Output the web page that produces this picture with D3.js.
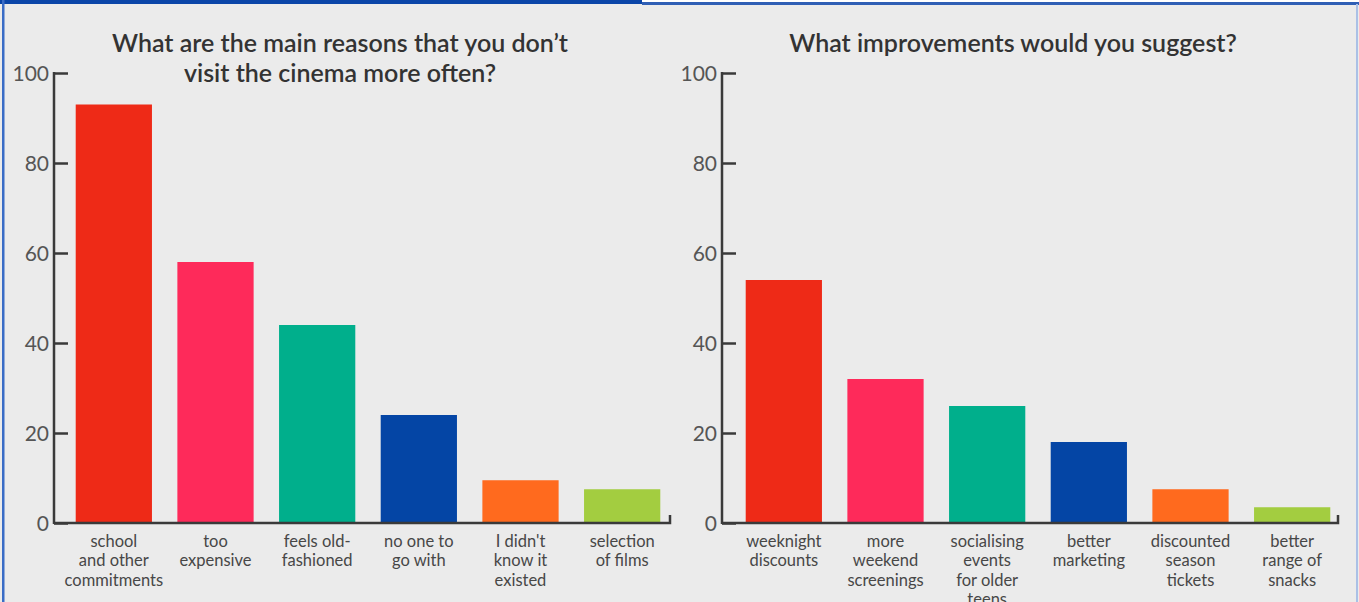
<!DOCTYPE html>
<html><head><meta charset="utf-8">
<script src="https://cdn.jsdelivr.net/npm/d3@7"></script>
<style>
html,body{margin:0;padding:0;background:#fff;}
svg{display:block;font-family:Lato,"Open Sans",sans-serif;}
</style></head>
<body>
<svg id="c" width="1359" height="602"></svg>
<script>
const leftTitle = ["What are the main reasons that you don\u2019t", "visit the cinema more often?"];
const leftCategories = [["school","and other","commitments"],["too","expensive"],["feels old-","fashioned"],["no one to","go with"],["I didn't","know it","existed"],["selection","of films"]];
const leftValues = [93, 58, 44, 24, 9.5, 7.5];

const rightTitle = ["What improvements would you suggest?"];
const rightCategories = [["weeknight","discounts"],["more","weekend","screenings"],["socialising","events","for older","teens"],["better","marketing"],["discounted","season","tickets"],["better","range of","snacks"]];
const rightValues = [54, 32, 26, 18, 7.5, 3.5];

const barColors = ["#ee2a17","#fe2a5a","#00af8c","#0445a5","#ff6a1e","#a3cd40"];
const yTicks = [0, 20, 40, 60, 80, 100];

const svg = d3.select("#c");
svg.append("rect").attr("x",0).attr("y",0).attr("width",1359).attr("height",602).attr("fill","#ebebeb");
// frame
svg.append("rect").attr("x",642).attr("y",0).attr("width",717).attr("height",2).attr("fill","#ffffff");
svg.append("rect").attr("x",642).attr("y",2).attr("width",717).attr("height",3).attr("fill","#2f5fb5");
svg.append("rect").attr("x",0).attr("y",0).attr("width",642).attr("height",4).attr("fill","#0a45a8");
svg.append("rect").attr("x",2).attr("y",0).attr("width",2.5).attr("height",602).attr("fill","#3a6cc6");
svg.append("rect").attr("x",1356).attr("y",4).attr("width",2).attr("height",598).attr("fill","#aac0e6");

const y = d3.scaleLinear().domain([0,100]).range([523,73]);

function panel(cfg){
  const g = svg.append("g");
  const x = d3.scaleBand().domain(cfg.cats.map((d,i)=>i)).range(cfg.range).paddingInner(0.25).paddingOuter(0.125);
  g.selectAll("rect.bar").data(cfg.vals).join("rect").attr("class","bar")
    .attr("x",(d,i)=>x(i)).attr("width",x.bandwidth())
    .attr("y",d=>y(d)).attr("height",d=>y(0)-y(d))
    .attr("fill",(d,i)=>barColors[i]);
  const ax = g.append("g").attr("transform",`translate(${cfg.axisX},0)`)
    .call(d3.axisRight(y).tickValues(yTicks).tickSize(14).tickFormat(""));
  ax.select(".domain").remove();
  ax.selectAll(".tick line").attr("stroke","#3a3a3a").attr("stroke-width",2.5);
  g.append("line").attr("x1",cfg.axisX).attr("x2",cfg.axisX).attr("y1",y(100)-1).attr("y2",y(0)+1)
    .attr("stroke","#3a3a3a").attr("stroke-width",2.5);
  g.append("path").attr("d",`M${cfg.axisX},${y(0)}H${cfg.endX}V${y(0)-8}`)
    .attr("fill","none").attr("stroke","#3a3a3a").attr("stroke-width",2.5);
  g.selectAll("text.tl").data(yTicks).join("text").attr("class","tl")
    .attr("x",cfg.axisX-5).attr("y",d=>y(d)).attr("dy","0.36em")
    .attr("text-anchor","end").attr("font-size",21).attr("fill","#555")
    .attr("font-weight",400).text(d=>d);
  cfg.cats.forEach((lines,i)=>{
    const t = g.append("text").attr("text-anchor","middle").attr("font-size",16.5).attr("fill","#474747")
      .attr("x",x(i)+x.bandwidth()/2).attr("y",547);
    lines.forEach((s,j)=>t.append("tspan").attr("x",x(i)+x.bandwidth()/2).attr("y",547+j*19.3).text(s));
  });
  cfg.title.forEach((s,j)=>g.append("text").attr("text-anchor","middle").attr("x",cfg.titleX)
    .attr("y",52+j*30).attr("font-size",25).attr("font-weight",600).attr("fill","#333").text(s));
}

panel({cats:leftCategories, vals:leftValues, range:[63,673], axisX:54, endX:670, title:leftTitle, titleX:340});
panel({cats:rightCategories, vals:rightValues, range:[733,1343], axisX:722, endX:1338, title:rightTitle, titleX:1013});
</script>
</body></html>
